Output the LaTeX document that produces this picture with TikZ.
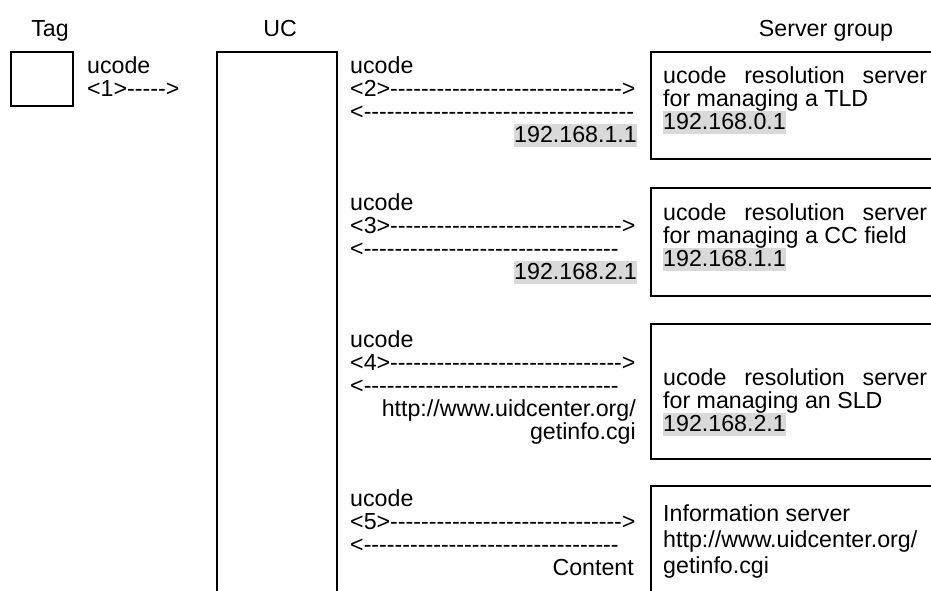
\documentclass[tikz,border=0pt]{standalone}
\usepackage{fontspec}
\newfontfamily\arialfont{Liberation Sans}
\definecolor{hlgray}{HTML}{D9D9D9}
% grey text highlight, tight around one line of text
\newcommand\hlite[1]{{\setlength{\fboxsep}{0pt}\colorbox{hlgray}{\rule[-0.22em]{0pt}{0.98em}#1}}}
\begin{document}
\begin{tikzpicture}[x=1pt,y=-1pt,
  txt/.style={inner sep=0pt,font=\arialfont\fontsize{23.2}{23.2}\selectfont},
  lt/.style={txt,anchor=base west},
  rt/.style={txt,anchor=base east},
  ct/.style={txt,anchor=base},
  frame/.style={draw=black,line width=1.7pt,inner sep=0pt}]
\useasboundingbox (0,0) rectangle (931,590);
\clip (0,0) rectangle (931,590);

% column headings
\node[ct] (hTag) at (50,36) {Tag};
\node[ct] (hUC) at (280,36) {UC};
\node[ct] (hSrv) at (826,36) {Server group};

% tag and UC
\node[frame,minimum width=62pt,minimum height=54pt,anchor=north west] (tag) at (10,51) {};
\node[frame,minimum width=120pt,minimum height=600pt,anchor=north west] (uc) at (216,51) {};
\node[lt] (t1a) at (87,73) {ucode};
\node[lt] (t1b) at (87,96) {<1>----->};

% exchange 2
\node[lt] (m2a) at (350,73) {ucode};
\node[lt] (m2b) at (350,96) {<2>------------------------------>};
\node[lt] (m2c) at (350,119) {<-----------------------------------};
\node[rt] (m2d) at (637,142) {\hlite{192.168.1.1}};

% exchange 3
\node[lt] (m3a) at (350,210) {ucode};
\node[lt] (m3b) at (350,233) {<3>------------------------------>};
\node[lt] (m3c) at (350,256) {<---------------------------------};
\node[rt] (m3d) at (637,279) {\hlite{192.168.2.1}};

% exchange 4
\node[lt] (m4a) at (350,347) {ucode};
\node[lt] (m4b) at (350,370) {<4>------------------------------>};
\node[lt] (m4c) at (350,393) {<---------------------------------};
\node[rt] (m4d) at (636,416) {http://www.uidcenter.org/};
\node[rt] (m4e) at (636,439) {getinfo.cgi};

% exchange 5
\node[lt] (m5a) at (350,506) {ucode};
\node[lt] (m5b) at (350,529) {<5>------------------------------>};
\node[lt] (m5c) at (350,552) {<---------------------------------};
\node[rt] (m5d) at (634,575) {Content};

% server group
\node[frame,minimum width=300pt,minimum height=107pt,anchor=north west] (s1) at (650,51) {};
\node[frame,minimum width=300pt,minimum height=108pt,anchor=north west] (s2) at (650,187) {};
\node[frame,minimum width=300pt,minimum height=135pt,anchor=north west] (s3) at (650,323) {};
\node[frame,minimum width=300pt,minimum height=135pt,anchor=north west] (s4) at (650,485) {};

\node[lt] (s1a) at (663,83) {\makebox[264pt][s]{ucode resolution server}};
\node[lt] (s1b) at (663,106) {for managing a TLD};
\node[lt] (s1c) at (663,129) {\hlite{192.168.0.1}};

\node[lt] (s2a) at (663,220) {\makebox[264pt][s]{ucode resolution server}};
\node[lt] (s2b) at (663,243) {for managing a CC field};
\node[lt] (s2c) at (663,266) {\hlite{192.168.1.1}};

\node[lt] (s3a) at (663,385) {\makebox[264pt][s]{ucode resolution server}};
\node[lt] (s3b) at (663,408) {for managing an SLD};
\node[lt] (s3c) at (663,431) {\hlite{192.168.2.1}};

\node[lt] (s4a) at (663,521) {Information server};
\node[lt] (s4b) at (663,547) {http://www.uidcenter.org/};
\node[lt] (s4c) at (663,573) {getinfo.cgi};
\end{tikzpicture}
\end{document}
